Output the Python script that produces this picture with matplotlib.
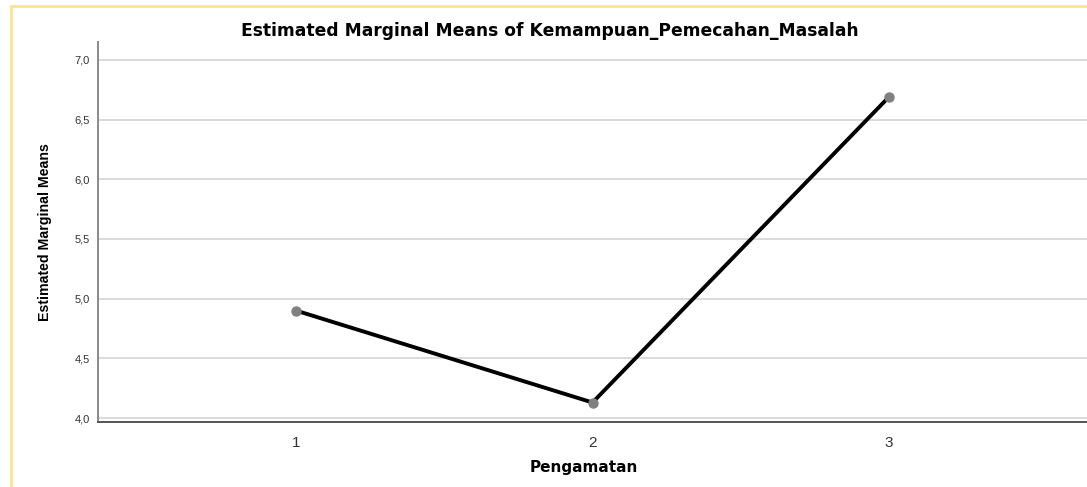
import matplotlib.pyplot as plt
from matplotlib.lines import Line2D

# Data
pengamatan = [1, 2, 3]
means = [4.90, 4.13, 6.69]
y_ticks = [4.0, 4.5, 5.0, 5.5, 6.0, 6.5, 7.0]
y_labels = ['4,0', '4,5', '5,0', '5,5', '6,0', '6,5', '7,0']

plt.rcParams['font.family'] = ['Liberation Sans', 'DejaVu Sans']

fig = plt.figure(figsize=(10.87, 4.87), dpi=100)
ax = fig.add_axes([0.0902, 0.1335, 0.9098, 0.7803])

ax.plot(pengamatan, means, color='black', linewidth=2.8, zorder=3,
        marker='o', markersize=6.5, markerfacecolor='#808080', markeredgecolor='#808080')

ax.set_xlim(0.332, 3.668)
ax.set_ylim(3.967, 7.15)
ax.set_xticks(pengamatan)
ax.set_xticklabels([str(p) for p in pengamatan], fontsize=11, color='#333333')
ax.set_yticks(y_ticks)
ax.set_yticklabels(y_labels, fontsize=8, color='#333333')
ax.tick_params(length=0, pad=6)
ax.tick_params(axis='x', pad=10)

ax.grid(axis='y', color='#d4d4d4', linewidth=1.2)
ax.set_axisbelow(True)
for s in ['top', 'right']:
    ax.spines[s].set_visible(False)
ax.spines['left'].set_color('#8a8a8a')
ax.spines['left'].set_linewidth(1.4)
ax.spines['bottom'].set_color('#555555')
ax.spines['bottom'].set_linewidth(1.4)

ax.set_xlabel('Pengamatan', fontsize=11, fontweight='bold',
              family=['DejaVu Sans'])
ax.xaxis.set_label_coords(0.491, -0.10)
ax.set_ylabel('Estimated Marginal Means', fontsize=10.2, fontweight='bold')
ax.yaxis.set_label_coords(-0.047, 0.5)
fig.suptitle('Estimated Marginal Means of Kemampuan_Pemecahan_Masalah',
             x=0.506, y=0.955, fontsize=12.3, fontweight='bold',
             family=['DejaVu Sans'])

# yellow frame on left and top
fig.add_artist(Line2D([0.0105, 0.0105], [0, 0.988], transform=fig.transFigure,
                      color='#ffe58a', linewidth=2))
fig.add_artist(Line2D([0.0105, 1.0], [0.988, 0.988], transform=fig.transFigure,
                      color='#ffe58a', linewidth=2))

fig.savefig('out.png', dpi=100)
